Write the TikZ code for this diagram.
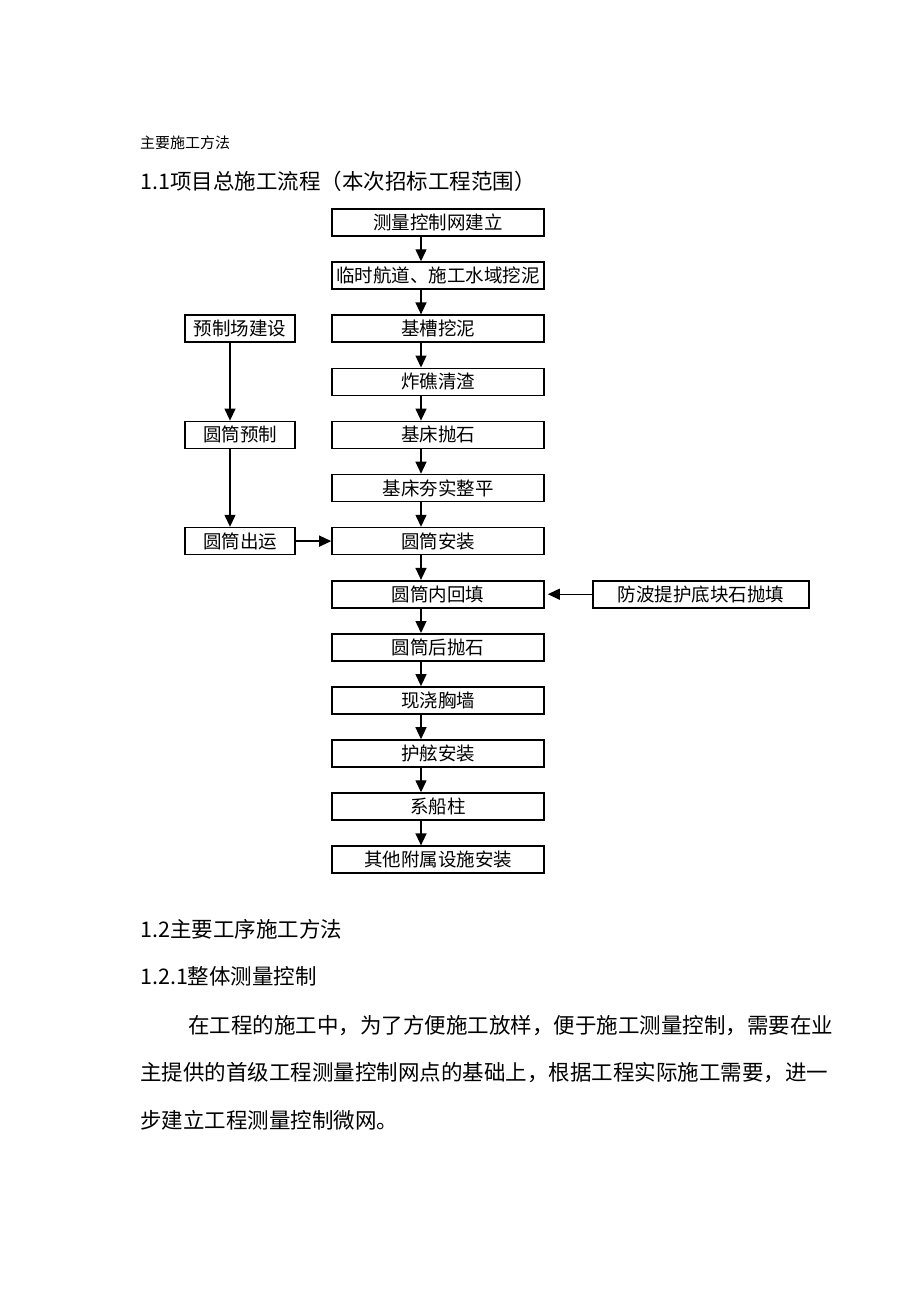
\documentclass[tikz,border=0pt]{standalone}
\usepackage{fontspec}
\newfontfamily\cjk{Noto Sans CJK SC}
\usetikzlibrary{arrows.meta,positioning}

\begin{document}
\begin{tikzpicture}[x=1pt,y=-1pt]
  \useasboundingbox[fill=white] (0,0) rectangle (920,1302);
  \tikzstyle{paso}=[rectangle, draw, line width=1.6pt, minimum width=212pt, minimum height=27pt, inner sep=0pt, font=\cjk\fontsize{18.5pt}{20pt}\selectfont]
  \tikzstyle{lateral}=[paso, minimum width=110pt]
  \tikzstyle{texto}=[anchor=west, inner sep=0pt, font=\cjk\fontsize{21.5pt}{24pt}\selectfont]
  \tikzstyle{flecha}=[line width=1.3pt, -{Triangle[length=12pt,width=11pt]}]

  % Titulos
  \node[texto, font=\cjk\fontsize{15pt}{17pt}\selectfont] (t0) at (140,143) {主要施工方法};
  \node[texto] (t1) at (140,181) {1.1项目总施工流程（本次招标工程范围）};

  % Columna principal
  \node[paso] (p1) at (438,222.5) {测量控制网建立};
  \node[paso] (p2) at (438,275.6) {临时航道、施工水域挖泥};
  \node[paso] (p3) at (438,328.7) {基槽挖泥};
  \node[paso] (p4) at (438,381.8) {炸礁清渣};
  \node[paso] (p5) at (438,434.9) {基床抛石};
  \node[paso] (p6) at (438,488.0) {基床夯实整平};
  \node[paso] (p7) at (438,541.1) {圆筒安装};
  \node[paso] (p8) at (438,594.2) {圆筒内回填};
  \node[paso] (p9) at (438,647.3) {圆筒后抛石};
  \node[paso] (p10) at (438,700.4) {现浇胸墙};
  \node[paso] (p11) at (438,753.5) {护舷安装};
  \node[paso] (p12) at (438,806.6) {系船柱};
  \node[paso] (p13) at (438,859.7) {其他附属设施安装};

  % Columna izquierda y derecha
  \node[lateral] (l1) at (240,328.7) {预制场建设};
  \node[lateral] (l2) at (240,434.9) {圆筒预制};
  \node[lateral] (l3) at (240,541.1) {圆筒出运};
  \node[paso, minimum width=216pt] (r1) at (701,594.2) {防波提护底块石抛填};

  \draw[flecha] ([xshift=-17pt]p1.south) -- ([xshift=-17pt]p2.north);
  \draw[flecha] ([xshift=-17pt]p2.south) -- ([xshift=-17pt]p3.north);
  \draw[flecha] ([xshift=-17pt]p3.south) -- ([xshift=-17pt]p4.north);
  \draw[flecha] ([xshift=-17pt]p4.south) -- ([xshift=-17pt]p5.north);
  \draw[flecha] ([xshift=-17pt]p5.south) -- ([xshift=-17pt]p6.north);
  \draw[flecha] ([xshift=-17pt]p6.south) -- ([xshift=-17pt]p7.north);
  \draw[flecha] ([xshift=-17pt]p7.south) -- ([xshift=-17pt]p8.north);
  \draw[flecha] ([xshift=-17pt]p8.south) -- ([xshift=-17pt]p9.north);
  \draw[flecha] ([xshift=-17pt]p9.south) -- ([xshift=-17pt]p10.north);
  \draw[flecha] ([xshift=-17pt]p10.south) -- ([xshift=-17pt]p11.north);
  \draw[flecha] ([xshift=-17pt]p11.south) -- ([xshift=-17pt]p12.north);
  \draw[flecha] ([xshift=-17pt]p12.south) -- ([xshift=-17pt]p13.north);

  \draw[flecha] ([xshift=-10pt]l1.south) -- ([xshift=-10pt]l2.north);
  \draw[flecha] ([xshift=-10pt]l2.south) -- ([xshift=-10pt]l3.north);
  \draw[flecha] (l3.east) -- (p7.west);
  \draw[flecha, shorten >=3pt] (r1.west) -- (p8.east);

  % Texto inferior
  \node[texto] (t2) at (140,929) {1.2主要工序施工方法};
  \node[texto] (t3) at (140,976) {1.2.1整体测量控制};
  \node[texto] (s1) at (188,1026) {在工程的施工中，为了方便施工放样，便于施工测量控制，需要在业};
  \node[texto] (s2) at (140,1073) {主提供的首级工程测量控制网点的基础上，根据工程实际施工需要，进一};
  \node[texto] (s3) at (140,1120) {步建立工程测量控制微网。};
\end{tikzpicture}
\end{document}
